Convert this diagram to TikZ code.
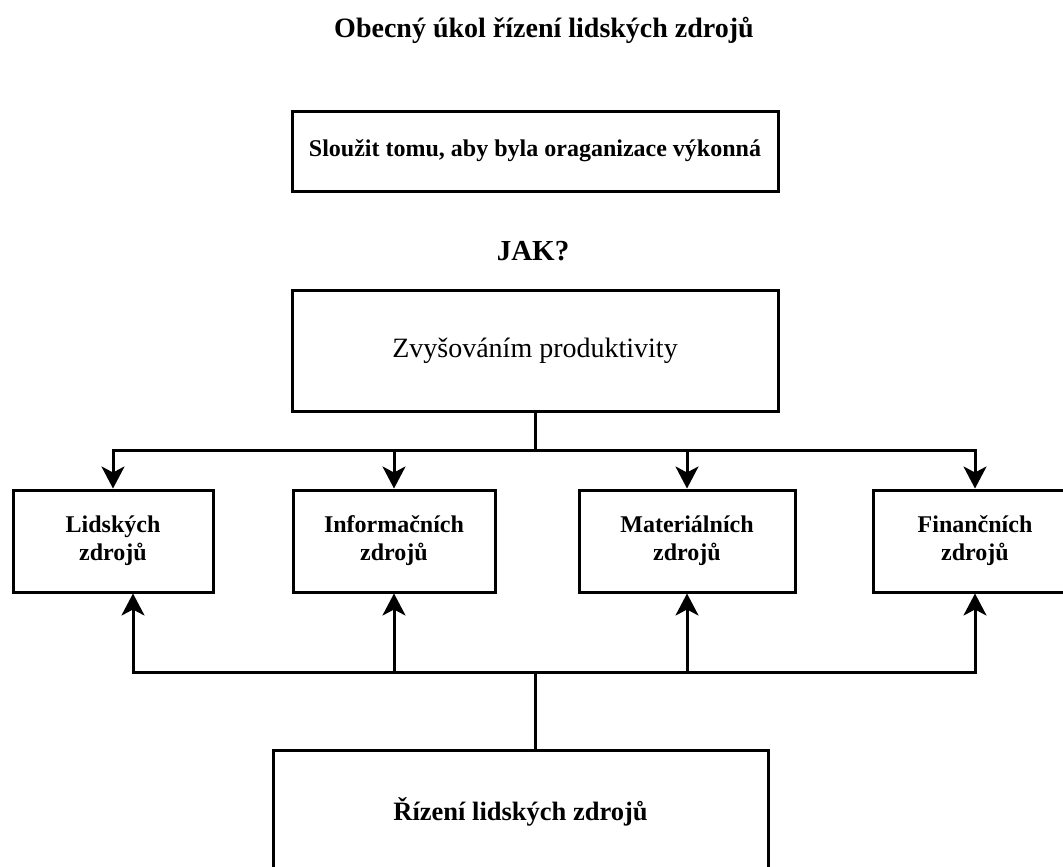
\documentclass[tikz,border=0pt]{standalone}
\usepackage{fontspec}
\setmainfont{Liberation Serif}
\usetikzlibrary{arrows.meta}
\tikzset{
  box/.style={draw, line width=3pt, inner sep=0pt, align=center},
  conn/.style={line width=3pt, line join=miter},
  arr/.style={conn, -{Stealth[length=22pt, width=23pt, inset=6pt]}},
  plain/.style={inner sep=0pt, align=center},
  small/.style={box, minimum height=102pt, font=\fontsize{24}{28}\selectfont\bfseries}
}
\begin{document}
\begin{tikzpicture}[x=1pt, y=-1pt]
\useasboundingbox (0,0) rectangle (1063,867);
\clip (0,0) rectangle (1063,867);
\node[plain, anchor=base, font=\fontsize{28}{30}\selectfont\bfseries] (title) at (544,38) {Obecný úkol řízení lidských zdrojů};
\node[box, minimum width=486pt, minimum height=80pt, font=\fontsize{24}{28}\selectfont\bfseries] (b1) at (535,151) {Sloužit tomu, aby byla oraganizace výkonná};
\node[plain, anchor=base, font=\fontsize{29}{32}\selectfont\bfseries] (jak) at (533,260) {JAK?};
\node[box, minimum width=486pt, minimum height=121pt, font=\fontsize{28}{32}\selectfont] (b2) at (535,350.5) {Zvyšováním produktivity};
\node[small, minimum width=200pt] (L) at (113,541) {Lidských\\zdrojů};
\node[small, minimum width=202pt] (I) at (394,541) {Informačních\\zdrojů};
\node[small, minimum width=216pt] (M) at (687,541) {Materiálních\\zdrojů};
\node[small, minimum width=204pt] (F) at (975,541) {Finančních\\zdrojů};
\node[box, minimum width=495pt, minimum height=124pt, font=\fontsize{26.5}{30}\selectfont\bfseries] (b5) at (520.5,812) {Řízení lidských zdrojů};
% top distribution
\coordinate (jt) at (535,450);
\draw[conn] (b2.south) -- (jt);
\draw[arr] (jt) -| (L.north);
\draw[arr] (jt) -| (I.north);
\draw[arr] (jt) -| (M.north);
\draw[arr] (jt) -| (F.north);
% bottom distribution
\coordinate (jb) at (535,672);
\draw[conn] (b5.north -| jb) -- (jb);
\draw[arr] (jb) -| ([xshift=20pt]L.south);
\draw[arr] (jb) -| (I.south);
\draw[arr] (jb) -| (M.south);
\draw[arr] (jb) -| (F.south);
\end{tikzpicture}
\end{document}
